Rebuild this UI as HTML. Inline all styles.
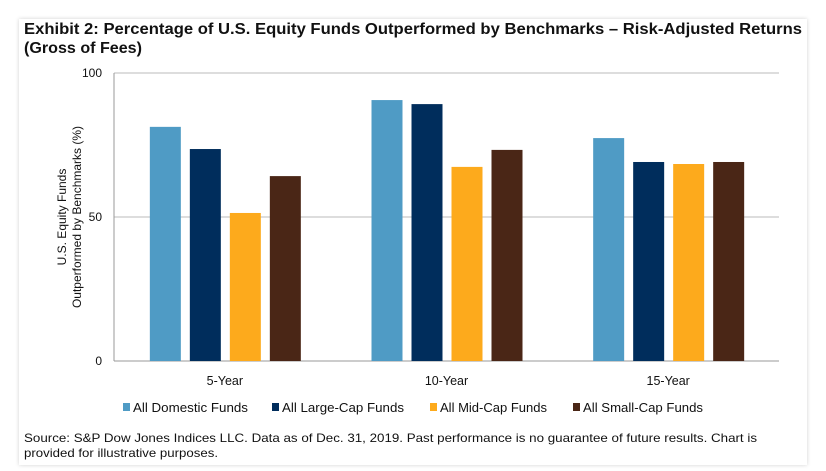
<!DOCTYPE html>
<html><head><meta charset="utf-8"><style>
body{margin:0;background:#fff;width:826px;height:471px;overflow:hidden;font-family:"Liberation Sans",Arial,sans-serif;}
.card{position:absolute;left:19px;top:19px;width:788px;height:446px;background:#fff;box-shadow:0 0 4px rgba(0,0,0,0.18);}
</style></head><body>
<div class="card"></div>
<svg width="826" height="471" style="position:absolute;left:0;top:0">
<text x="24" y="34" font-size="15.5" font-weight="bold" fill="#111" textLength="778" lengthAdjust="spacingAndGlyphs">Exhibit 2: Percentage of U.S. Equity Funds Outperformed by Benchmarks – Risk-Adjusted Returns</text>
<text x="24" y="53" font-size="15.5" font-weight="bold" fill="#111" textLength="118" lengthAdjust="spacingAndGlyphs">(Gross of Fees)</text>
<g id="plot"></g>
<text x="24" y="442" font-size="12" fill="#111" textLength="733" lengthAdjust="spacingAndGlyphs">Source: S&amp;P Dow Jones Indices LLC. Data as of Dec. 31, 2019. Past performance is no guarantee of future results. Chart is</text>
<text x="24" y="457" font-size="12" fill="#111" textLength="194" lengthAdjust="spacingAndGlyphs">provided for illustrative purposes.</text>
</svg>
<script>
const categories=["5-Year","10-Year","15-Year"];
const seriesNames=["All Domestic Funds","All Large-Cap Funds","All Mid-Cap Funds","All Small-Cap Funds"];
const domestic=[81.3,90.6,77.4];
const largeCap=[73.6,89.2,69.1];
const midCap=[51.4,67.4,68.4];
const smallCap=[64.2,73.3,69.1];
const yTicks=[0,50,100];
const colors=["#4f9bc5","#002d5c","#fdaa1c","#4a2616"];
const series=[domestic,largeCap,midCap,smallCap];
const NS="http://www.w3.org/2000/svg";
const g=document.getElementById('plot');
const L=114,R=779,T=73,B=361;
const y=v=>B-(v/100)*(B-T);
const gw=(R-L)/categories.length;
const xc=i=>L+gw*(i+0.5);
function mk(t,a){const e=document.createElementNS(NS,t);for(const k in a)e.setAttribute(k,a[k]);g.appendChild(e);return e;}
yTicks.forEach(t=>{
 const ln=mk('line',{x1:L,x2:R,y1:y(t),y2:y(t),stroke:t===0?'#999':'#bbb','stroke-width':1});
 
 
 const tx=mk('text',{x:L-12,y:y(t)+4,'text-anchor':'end','font-size':12,fill:'#111'});tx.textContent=t;
 
 
});
const ax=mk('line',{x1:L,x2:L,y1:T,y2:B,stroke:'#999'});


const yt=mk('text',{transform:'translate(72,217) rotate(-90)','text-anchor':'middle','font-size':12,fill:'#111'});


yt.innerHTML='<tspan x="0" dy="-6">U.S. Equity Funds</tspan><tspan x="0" dy="15">Outperformed by Benchmarks (%)</tspan>';
const bw=31,step=40;
categories.forEach((c,i)=>{
 series.forEach((s,j)=>{
  const x=xc(i)-2*step+j*step+(step-bw)/2+0.5;
  const r=mk('rect',{x:x,y:y(s[i]),width:bw,height:B-y(s[i]),fill:colors[j]});
  
  
 });
 const t=mk('text',{x:xc(i),y:385,'text-anchor':'middle','font-size':12.5,fill:'#111'});t.textContent=c;
 
 
});
const lx=[123,272,430,573];
const lw=[115,122,107,120];
seriesNames.forEach((n,j)=>{
 const r=mk('rect',{x:lx[j],y:403,width:7,height:8,fill:colors[j]});
 
 
 const t=mk('text',{x:lx[j]+10,y:412,'font-size':12.5,fill:'#111',textLength:lw[j],lengthAdjust:'spacingAndGlyphs'});t.textContent=n;
 
 
});
</script>
</body></html>
